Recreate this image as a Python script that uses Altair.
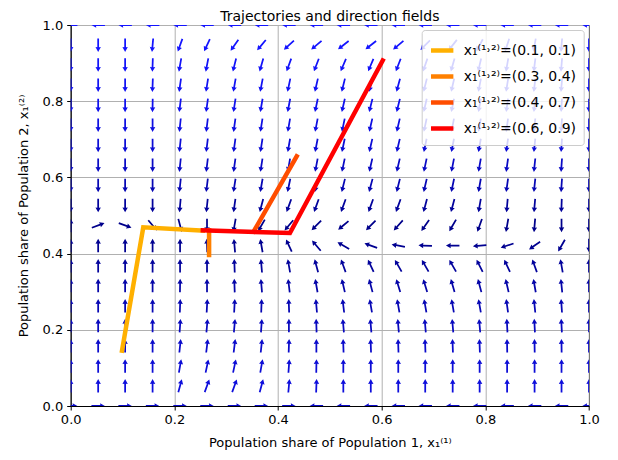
import altair as alt
import pandas as pd

# ---- grid of the direction field (20 x 20) ----
grid = [0.0, 0.053, 0.105, 0.158, 0.211, 0.263, 0.316, 0.368, 0.421, 0.474,
        0.526, 0.579, 0.632, 0.684, 0.737, 0.789, 0.842, 0.895, 0.947, 1.0]

# screen angle (deg, counter-clockwise from +x) of each arrow, row by row (bottom -> top)
angle_rows = [
    [0, 0, 0, 0, 0, 0, 0, 0, 0, 180, 180, 180, 180, 180, 180, 180, 180, 180, 180, 180],
    [90, 90, 90, 90, 75, 70, 70, 75, 85, 88, 90, 90, 90, 90, 90, 90, 90, 90, 90, 90],
    [90, 90, 90, 90, 80, 78, 78, 80, 86, 89, 90, 90, 90, 90, 90, 90, 90, 90, 90, 90],
    [90, 90, 90, 90, 84, 83, 83, 84, 88, 90, 92, 92, 92, 92, 92, 92, 91, 91, 91, 90],
    [90, 90, 90, 90, 86, 85, 85, 86, 90, 92, 95, 95, 95, 95, 95, 95, 93, 93, 93, 90],
    [90, 90, 90, 90, 88, 87, 87, 88, 92, 95, 97, 100, 100, 100, 100, 100, 98, 96, 94, 90],
    [90, 90, 90, 90, 89, 90, 92, 95, 97, 100, 103, 105, 107, 107, 106, 105, 103, 100, 96, 90],
    [90, 90, 90, 90, 90, 90, 92, 95, 100, 105, 110, 115, 120, 120, 120, 117, 115, 110, 100, 90],
    [90, 90, 90, 90, 90, 92, 95, 100, 115, 130, 150, 160, 170, 178, 180, -175, -162, -145, -120, -90],
    [90, 20, -20, -50, -75, -90, -100, -120, -130, -135, -140, -135, -132, -125, -120, -110, -100, -95, -90, -90],
    [-90, -90, -90, -90, -95, -96, -98, -105, -110, -110, -110, -110, -110, -105, -105, -100, -95, -95, -92, -90],
    [-90, -90, -90, -90, -96, -97, -99, -100, -102, -103, -104, -105, -104, -103, -102, -100, -98, -96, -94, -90],
    [-90, -90, -90, -90, -96, -97, -98, -99, -100, -101, -102, -103, -103, -102, -101, -100, -98, -96, -94, -90],
    [-90, -90, -90, -90, -96, -97, -98, -99, -100, -101, -102, -103, -103, -102, -101, -100, -98, -96, -94, -90],
    [-90, -90, -90, -90, -96, -97, -98, -99, -100, -101, -102, -103, -103, -102, -101, -100, -98, -96, -94, -90],
    [-90, -90, -90, -91, -97, -98, -99, -100, -101, -102, -103, -104, -104, -103, -102, -100, -98, -96, -94, -90],
    [-90, -90, -90, -92, -98, -99, -100, -101, -102, -103, -104, -105, -105, -104, -103, -101, -99, -97, -95, -90],
    [-90, -90, -90, -92, -100, -101, -104, -106, -110, -111, -113, -113, -111, -109, -106, -103, -100, -97, -95, -90],
    [-90, -90, -90, -95, -110, -115, -125, -130, -138, -140, -142, -142, -140, -135, -128, -118, -108, -100, -95, -90],
    [180, 180, 180, 180, 180, 180, 180, 180, 180, 180, 180, 180, 180, 180, 180, 180, 180, 180, 180, 180],
]

# relative speed of the arrows in each row (0 = slow / dark, 1 = fast / bright)
row_speed = [0.55, 0.7, 0.65, 0.55, 0.45, 0.35, 0.25, 0.15, 0.05, 0.0,
             0.15, 0.35, 0.5, 0.65, 0.75, 0.85, 0.9, 0.95, 1.0, 1.0]

# ---- trajectories ----
traj_labels = ["x₁⁽¹˒²⁾=(0.1, 0.1)", "x₁⁽¹˒²⁾=(0.3, 0.4)",
               "x₁⁽¹˒²⁾=(0.4, 0.7)", "x₁⁽¹˒²⁾=(0.6, 0.9)"]
traj_colors = ["#ffb000", "#ff8000", "#ff4d00", "#ff0000"]
traj_x = [[0.099, 0.140, 0.255], [0.267, 0.267], [0.436, 0.353], [0.602, 0.423, 0.255]]
traj_y = [[0.145, 0.469, 0.460], [0.396, 0.461], [0.655, 0.458], [0.907, 0.454, 0.461]]

title_text = ["Trajectories and direction fields"]

FONT = "DejaVu Sans"
W, H = 518.3, 381.0


def shade(s):
    lift = int(round(20 * s))
    b = int(round(139 + (255 - 139) * s))
    return "#%02x%02x%02x" % (lift, lift, b)


qrows = []
for ri, row in enumerate(angle_rows):
    for ci, a in enumerate(row):
        qrows.append({"x": grid[ci], "y": grid[ri], "rot": (90 - a) % 360,
                      "col": shade(row_speed[ri])})
qdf = pd.DataFrame(qrows)

lrows = []
for lab, xs, ys in zip(traj_labels, traj_x, traj_y):
    for i, (xv, yv) in enumerate(zip(xs, ys)):
        lrows.append({"label": lab, "x": xv, "y": yv, "i": i})
ldf = pd.DataFrame(lrows)

ARROW = ("M -0.13 1 L -0.13 -0.32 L -0.4 -0.28 L 0 -1 L 0.4 -0.28 "
         "L 0.13 -0.32 L 0.13 1 Z")

xscale = alt.Scale(domain=[0, 1], nice=False, zero=False)
yscale = alt.Scale(domain=[0, 1], nice=False, zero=False)
ticks = [0.0, 0.2, 0.4, 0.6, 0.8, 1.0]

xaxis = alt.Axis(values=ticks, format=".1f", labelFlush=False, titlePadding=10,
                 title="Population share of Population 1, x₁⁽¹⁾")
yaxis = alt.Axis(values=ticks, format=".1f", labelFlush=False, titlePadding=12,
                 title="Population share of Population 2, x₁⁽²⁾")

quiver = alt.Chart(qdf).mark_point(
    shape=ARROW, filled=True, size=182, opacity=1, strokeWidth=0, clip=True
).encode(
    x=alt.X("x:Q", scale=xscale, axis=xaxis),
    y=alt.Y("y:Q", scale=yscale, axis=yaxis),
    angle=alt.Angle("rot:Q", scale=None),
    fill=alt.Fill("col:N", scale=None),
)

lines = alt.Chart(ldf).mark_line(
    strokeWidth=4.5, strokeCap="square", strokeJoin="miter", clip=True
).encode(
    x=alt.X("x:Q", scale=xscale, axis=xaxis),
    y=alt.Y("y:Q", scale=yscale, axis=yaxis),
    order=alt.Order("i:Q"),
    color=alt.Color(
        "label:N",
        scale=alt.Scale(domain=traj_labels, range=traj_colors),
        legend=alt.Legend(
            title=None, orient="top-right", offset=5,
            symbolType="stroke", symbolSize=500, symbolStrokeWidth=4.5,
            labelFontSize=14, labelFont=FONT, labelColor="black",
            rowPadding=3, padding=7, labelOffset=8,
            fillColor="rgba(255,255,255,0.82)", strokeColor="#cccccc",
            cornerRadius=3,
        ),
    ),
)

title = alt.Chart(pd.DataFrame({"t": title_text})).mark_text(
    font=FONT, fontSize=14, color="black", align="center", baseline="alphabetic"
).encode(
    text="t:N",
    x=alt.value(W / 2),
    y=alt.value(-4),
)

chart = alt.layer(quiver, lines, title).properties(
    width=W,
    height=H,
    padding={"left": 62.7, "top": 17, "right": 20, "bottom": 46},
    autosize=alt.AutoSizeParams(type="none"),
).configure_view(
    stroke="black", strokeWidth=1
).configure_axis(
    labelFont=FONT, labelFontSize=13, labelColor="black",
    titleFont=FONT, titleFontSize=13, titleFontWeight="normal", titleColor="black",
    tickColor="black", tickSize=4, domainColor="black", domainWidth=1,
    grid=True, gridColor="#b0b0b0", gridWidth=1, labelPadding=3,
).configure_axisY(labelPadding=4)

chart.save("out.html", embed_options={"renderer": "svg", "actions": False})
